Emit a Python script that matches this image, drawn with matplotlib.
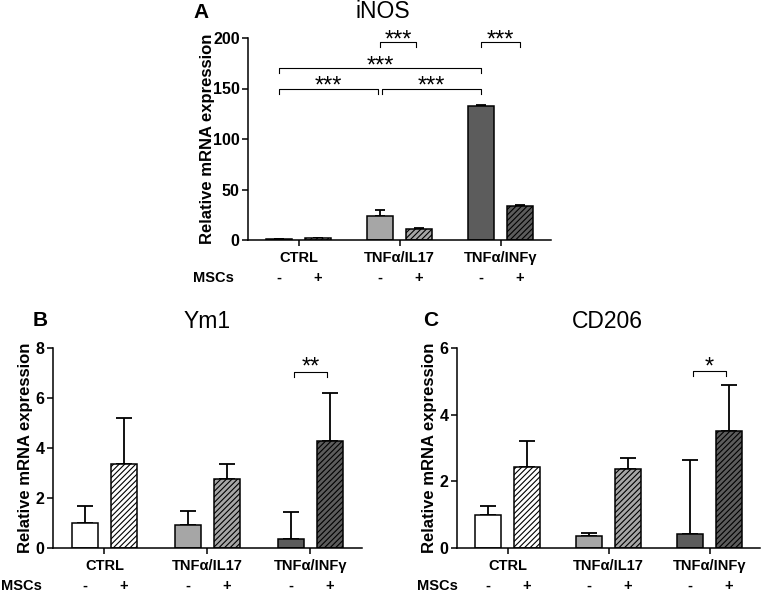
"""
Relative mRNA expression of iNOS, Ym1 and CD206 (bar charts with brackets)
"""
import numpy as np
import matplotlib
matplotlib.use("Agg")
from matplotlib import pyplot as plt
from matplotlib import transforms

plt.rcParams['font.family'] = ['Liberation Sans', 'DejaVu Sans']
plt.rcParams['hatch.linewidth'] = 0.8

W, H = 761, 592

groups = ["CTRL", "TNF\u03b1/IL17", "TNF\u03b1/INF\u03b3"]
msc_signs = ["-", "+"]

inos_mean = [1.0, 1.5, 24.0, 11.0, 132.5, 33.5]
inos_top = [1.4, 2.2, 29.5, 12.0, 134.0, 35.0]

ym1_mean = [1.0, 3.35, 0.92, 2.75, 0.35, 4.3]
ym1_top = [1.7, 5.2, 1.48, 3.37, 1.45, 6.2]

cd206_mean = [1.0, 2.42, 0.35, 2.38, 0.42, 3.5]
cd206_top = [1.25, 3.22, 0.45, 2.7, 2.65, 4.9]

bar_colors = ["white", "white", "#a6a6a6", "#a6a6a6", "#5c5c5c", "#5c5c5c"]
bar_hatch = [None, "//////", None, "//////", None, "//////"]

OFF = 0.19
WIDTH = 0.26


def bar_x():
    xs = []
    for g in range(len(groups)):
        xs += [g - OFF, g + OFF]
    return np.array(xs)


def bracket(ax, x1, x2, y, h, label, dpx):
    ax.plot([x1, x1, x2, x2], [y - h, y, y, y - h], color='black', lw=0.8,
            clip_on=False)
    ax.annotate(label, ((x1 + x2) / 2, y), xytext=(0, dpx),
                textcoords='offset pixels', ha='center', va='baseline',
                fontsize=17, annotation_clip=False)


def panel(ax, mean, top, ylim, yticks, cap, msc_x, label_xy):
    x = bar_x()
    for i in range(len(x)):
        ax.bar(x[i], mean[i], width=WIDTH, color=bar_colors[i],
               edgecolor='black', linewidth=1.1, hatch=bar_hatch[i],
               zorder=2)
    up = np.array(top) - np.array(mean)
    ax.errorbar(x, mean, yerr=[np.zeros(len(x)), up], fmt='none',
                ecolor='black', elinewidth=1.3, capsize=cap, capthick=1.3,
                zorder=1)
    ax.set_xlim(-0.5, 2.5)
    ax.set_ylim(*ylim)
    ax.set_yticks(yticks)
    ax.set_xticks(range(len(groups)))
    ax.set_xticklabels([])
    for s in ['top', 'right']:
        ax.spines[s].set_visible(False)
    for s in ['left', 'bottom']:
        ax.spines[s].set_linewidth(1.1)
    ax.tick_params(axis='both', width=1.1, length=4, labelsize=11.5, pad=2)
    for lab in ax.get_yticklabels():
        lab.set_fontweight('bold')
    ax.set_ylabel("Relative mRNA expression", fontsize=12,
                  fontweight='bold')
    ax.yaxis.set_label_coords(*label_xy)

    trans = transforms.blended_transform_factory(ax.transData, ax.transAxes)
    h = ax.get_window_extent().height
    for g, name in enumerate(groups):
        ax.text(g, -18 / h, name, transform=trans, ha='center', va='center',
                fontsize=10.5, fontweight='bold')
    for i, xi in enumerate(x):
        ax.text(xi, -38 / h, msc_signs[i % 2], transform=trans, ha='center',
                va='center', fontsize=10.5, fontweight='bold')
    fig = ax.figure
    y_msc = ax.get_position().y0 - 38 / H
    fig.text(msc_x / W, y_msc, "MSCs", ha='left', va='center',
             fontsize=10.5, fontweight='bold')


def header(fig, letter, lx, title, tx, y):
    fig.text(lx / W, 1 - y / H, letter, ha='left', va='center',
             fontsize=15, fontweight='bold')
    fig.text(tx / W, 1 - y / H, title, ha='center', va='center',
             fontsize=16.5)


def main():
    fig = plt.figure(figsize=(W / 100, H / 100), dpi=100)
    ax_a = fig.add_axes([248 / W, 1 - 240 / H, 303 / W, 202 / H])
    ax_b = fig.add_axes([53 / W, 1 - 548 / H, 309 / W, 200 / H])
    ax_c = fig.add_axes([457 / W, 1 - 548 / H, 303 / W, 200 / H])

    panel(ax_a, inos_mean, inos_top, (0, 200), [0, 50, 100, 150, 200],
          3.5, 193, (-0.11, 0.5))
    panel(ax_b, ym1_mean, ym1_top, (0, 8), [0, 2, 4, 6, 8], 6, 1,
          (-0.065, 0.5))
    panel(ax_c, cd206_mean, cd206_top, (0, 6), [0, 2, 4, 6], 6, 417,
          (-0.066, 0.5))

    header(fig, "A", 193, "iNOS", 383, 12)
    header(fig, "B", 33, "Ym1", 207, 321)
    header(fig, "C", 423, "CD206", 607, 321)

    x = bar_x()
    bracket(ax_a, x[0], x[2] - 0.02, 150, 5, "***", -4)
    bracket(ax_a, x[2] + 0.02, x[4], 150, 5, "***", -4)
    bracket(ax_a, x[0], x[4], 170, 5, "***", -4)
    bracket(ax_a, x[2], x[3] - 0.03, 196, 5, "***", -4)
    bracket(ax_a, x[4], x[5], 196, 5, "***", -4)
    bracket(ax_b, x[4] + 0.03, x[5] - 0.03, 7.05, 0.2, "**", -2)
    bracket(ax_c, x[4] + 0.03, x[5] - 0.03, 5.3, 0.15, "*", -2)

    fig.savefig("out.png", dpi=100)


if __name__ == '__main__':
    main()
